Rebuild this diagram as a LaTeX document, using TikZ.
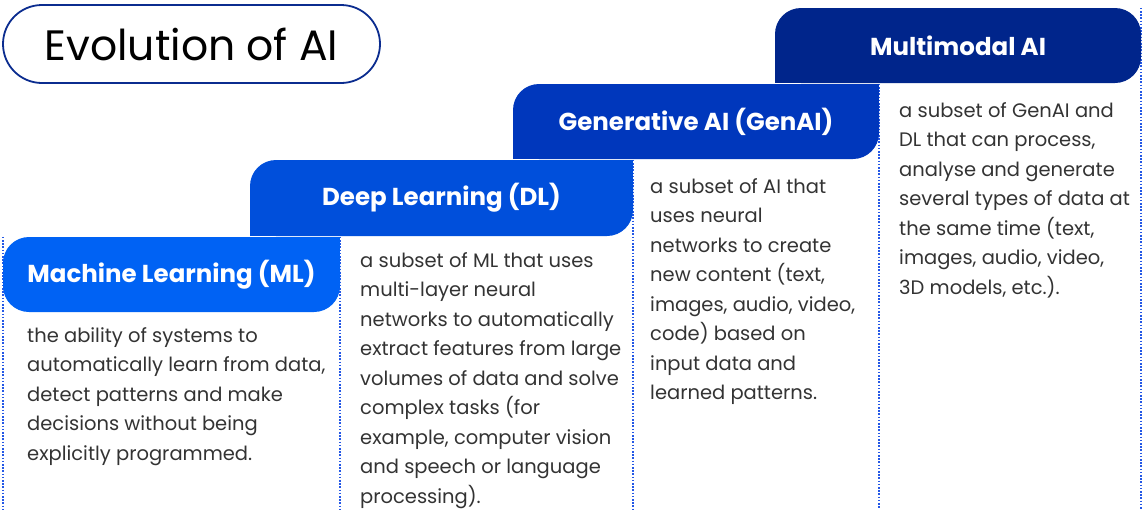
\documentclass[tikz,border=0pt]{standalone}
\usepackage{fontspec}
\setmainfont{Poppins}
\usetikzlibrary{backgrounds}
\definecolor{mlblue}{HTML}{0062F4}
\definecolor{dlblue}{HTML}{004FDB}
\definecolor{genblue}{HTML}{0037BC}
\definecolor{mmblue}{HTML}{00258B}
\definecolor{titleblue}{HTML}{0B2C8F}
\definecolor{guideblue}{HTML}{2458E6}
\definecolor{bodygray}{HTML}{333333}
\begin{document}
\begin{tikzpicture}[x=1pt, y=-1pt,
  head/.style={text=white, font=\fontsize{24.5}{28}\selectfont\bfseries, rounded corners=26pt, inner sep=0pt},
  body/.style={anchor=north west, align=left, inner sep=0pt, text=bodygray, font=\fontsize{19.5}{29.5}\selectfont},
  guide/.style={guideblue, line width=1.5pt, dash pattern=on 1.6pt off 1.6pt}]
\useasboundingbox (0,0) rectangle (1143,509);
\coordinate (bot) at (0,509);

% Title
\node[draw=titleblue, line width=1.8pt, rounded corners=39pt, minimum width=377pt, minimum height=78pt,
  font=\fontsize{42.5}{48}\selectfont] (title) at (191.5,44) {Evolution of AI};

% Headers
\node[head, fill=mlblue, minimum width=337pt, minimum height=75pt] (ml) at (171.5,274.5) {Machine Learning (ML)};
\fill[mlblue] (ml.north east) rectangle ++(-26,26);
\node[head, fill=dlblue, minimum width=383pt, minimum height=76pt] (dl) at (441.5,198) {Deep Learning (DL)};
\fill[dlblue] (dl.north east) rectangle ++(-26,26);
\fill[dlblue] (dl.south west) rectangle ++(26,-26);
\node[head, fill=genblue, minimum width=366pt, minimum height=75pt] (gen) at (696,121.5) {Generative AI (GenAI)};
\fill[genblue] (gen.north east) rectangle ++(-26,26);
\fill[genblue] (gen.south west) rectangle ++(26,-26);
\node[head, fill=mmblue, minimum width=366pt, minimum height=75pt] (mm) at (958,45.5) {Multimodal AI};
\fill[mmblue] (mm.south west) rectangle ++(26,-26);

% Column guides
\begin{scope}[on background layer]
\draw[guide] (ml.north west) -- (ml.north west |- bot);
\draw[guide] (ml.north east) -- (ml.north east |- bot);
\draw[guide] (dl.north east) -- (dl.north east |- bot);
\draw[guide] (gen.north east) -- (gen.north east |- bot);
\draw[guide] (mm.north east) -- (mm.north east |- bot);
\end{scope}

% Descriptions
\node[body] (mltext) at (27,327) {the ability of systems to\\automatically learn from data,\\detect patterns and make\\decisions without being\\explicitly programmed.};
\node[body] (dltext) at (360,252) {a subset of ML that uses\\multi-layer neural\\networks to automatically\\extract features from large\\volumes of data and solve\\complex tasks (for\\example, computer vision\\and speech or language\\processing).};
\node[body] (gentext) at (650,178) {a subset of AI that\\uses neural\\networks to create\\new content (text,\\images, audio, video,\\code) based on\\input data and\\learned patterns.};
\node[body] (mmtext) at (899,102) {a subset of GenAI and\\DL that can process,\\analyse and generate\\several types of data at\\the same time (text,\\images, audio, video,\\3D models, etc.).};

\end{tikzpicture}
\end{document}
